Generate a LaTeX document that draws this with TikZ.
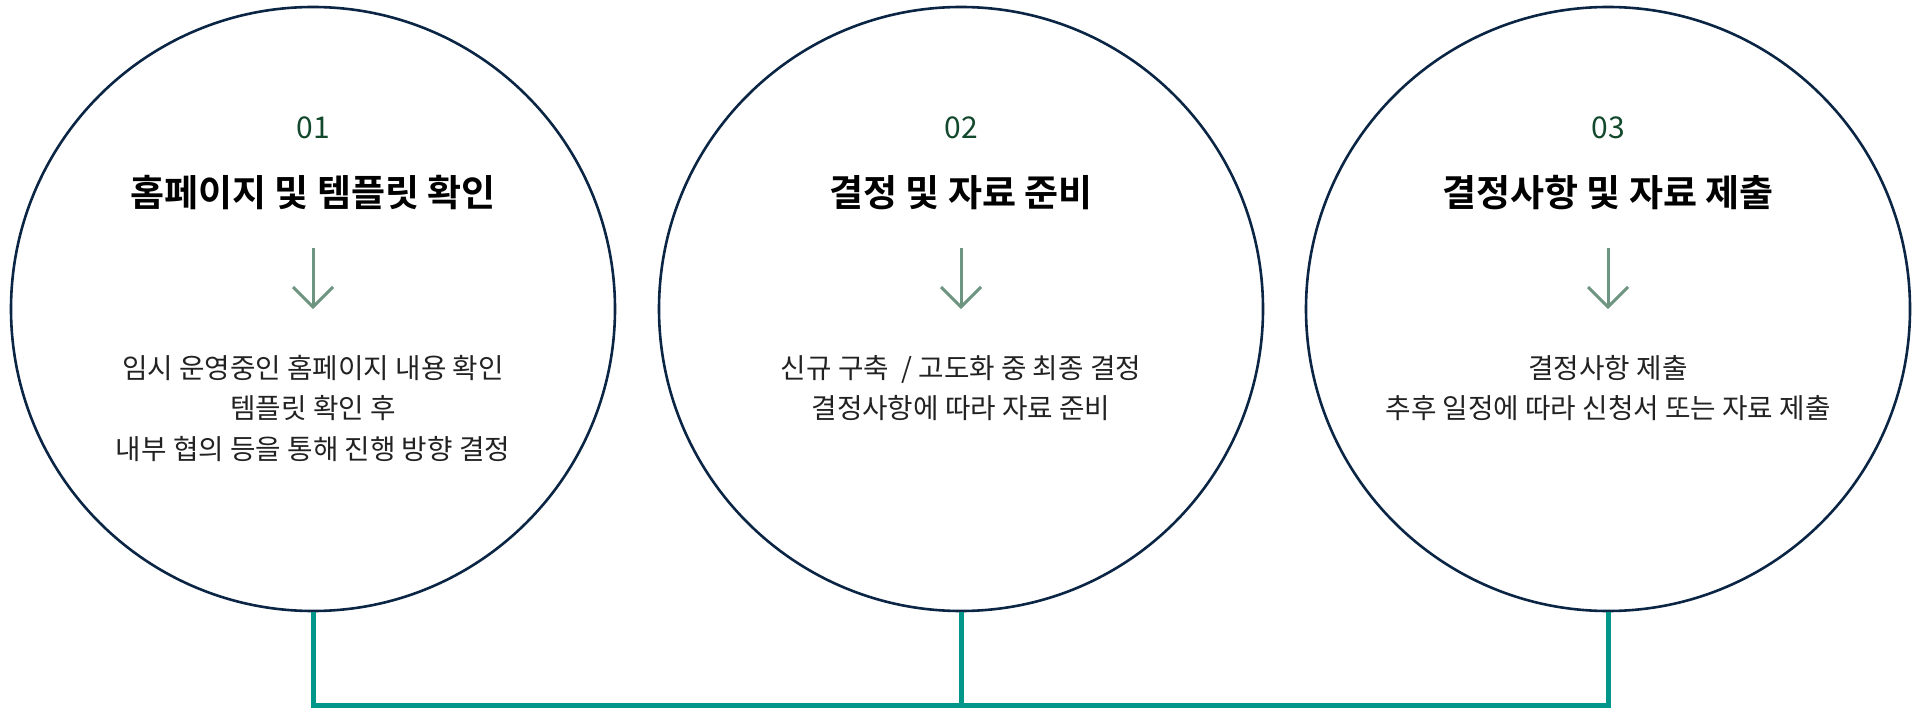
\documentclass[tikz,border=0pt]{standalone}
\usepackage{fontspec}
\newfontfamily\kr{Noto Sans CJK KR}
\newfontfamily\krb{Noto Sans CJK KR Bold}
\usetikzlibrary{calc}
\definecolor{ringc}{HTML}{0B2545}
\definecolor{linkc}{HTML}{00978A}
\definecolor{numc}{HTML}{12482C}
\definecolor{arrc}{HTML}{6E9482}
\definecolor{bodyc}{HTML}{222222}
\tikzset{
  ring/.style={circle, draw=ringc, line width=2.6pt, minimum size=604pt, inner sep=0pt},
  numtxt/.style={font=\kr\fontsize{30}{34}\selectfont, text=numc, inner sep=0pt},
  ttl/.style={font=\krb\fontsize{37}{44}\selectfont, text=black, inner sep=0pt},
  bodytxt/.style={font=\kr\fontsize{27.7}{40.5}\selectfont, text=bodyc, align=center, inner sep=0pt},
  downarr/.style={draw=arrc, line width=3pt},
  link/.style={draw=linkc, line width=5pt, line join=miter}
}
\begin{document}
\begin{tikzpicture}[x=1pt,y=-1pt]
\useasboundingbox (0,0) rectangle (1919,708);
% circles
\node[ring] (c1) at (313,309) {};
\node[ring] (c2) at (961,309) {};
\node[ring] (c3) at (1608,309) {};
% numbers
\node[numtxt] (n1) at (313,128) {01};
\node[numtxt] (n2) at (961,128) {02};
\node[numtxt] (n3) at (1608,128) {03};
% titles
\node[ttl] (t1) at (313,193) {홈페이지 및 템플릿 확인};
\node[ttl] (t2) at (961,193) {결정 및 자료 준비};
\node[ttl] (t3) at (1608,193) {결정사항 및 자료 제출};
% arrows
\foreach \i/\x in {1/313,2/961,3/1608}{
  \coordinate (a\i top) at (\x,248);
  \coordinate (a\i tip) at (\x,307);
  \coordinate (a\i l) at (\x-20,287);
  \coordinate (a\i r) at (\x+20,287);
  \draw[downarr] (a\i top) -- (a\i tip);
  \draw[downarr] (a\i l) -- (a\i tip) -- (a\i r);
}
% body text
\node[bodytxt] (b1) at (313,408) {임시 운영중인 홈페이지 내용 확인\\템플릿 확인 후\\내부 협의 등을 통해 진행 방향 결정};
\node[bodytxt] (b2) at (961,388) {신규 구축 \ / 고도화 중 최종 결정\\결정사항에 따라 자료 준비};
\node[bodytxt] (b3) at (1608,388) {결정사항 제출\\추후 일정에 따라 신청서 또는 자료 제출};
% connectors
\coordinate (d1) at (313,705);
\coordinate (d2) at (961,705);
\coordinate (d3) at (1608,705);
\draw[link] (c1.south) -- (d1) -- (d3) -- (c3.south);
\draw[link] (c2.south) -- (d2);
\end{tikzpicture}
\end{document}
